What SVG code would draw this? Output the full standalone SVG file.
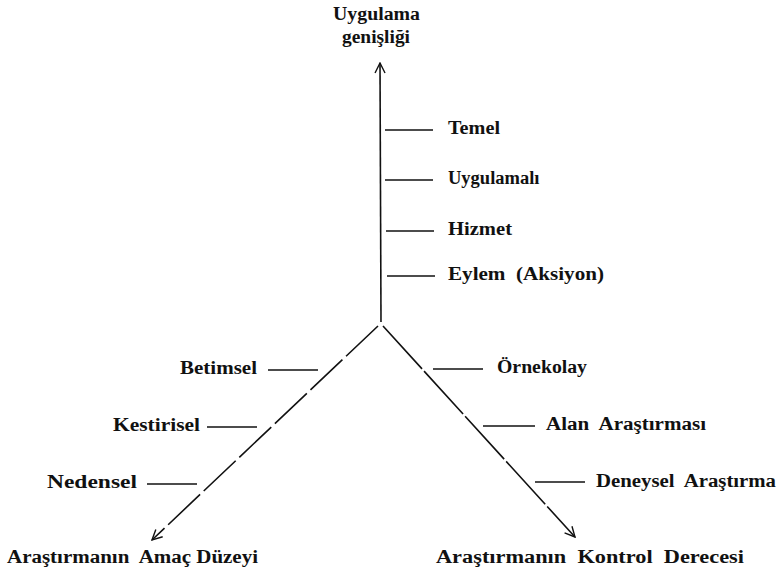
<svg xmlns="http://www.w3.org/2000/svg" width="777" height="576" viewBox="0 0 777 576">
<style>
text{font-family:"Liberation Serif","DejaVu Serif",serif;font-weight:bold;font-size:18.5px;fill:#111}
.ax{stroke:#111;stroke-width:1.6;fill:none}
.tk{stroke:#111;stroke-width:1.4;fill:none}
</style>
<defs>
<marker id="arr" viewBox="0 0 12 12" refX="11" refY="6" markerWidth="12" markerHeight="12" markerUnits="userSpaceOnUse" orient="auto">
<path d="M1,1 L11,6 L1,11" fill="none" stroke="#111" stroke-width="1.4"/>
</marker>
</defs>
<g id="connectors">
<line class="ax" x1="381" y1="322" x2="380" y2="63" marker-end="url(#arr)"/>
<line class="ax" x1="378" y1="326" x2="152" y2="540" stroke-dasharray="44 5" marker-end="url(#arr)"/>
<line class="ax" x1="383" y1="326" x2="575" y2="537" stroke-dasharray="58 3" marker-end="url(#arr)"/>
<line class="tk" x1="385" y1="130" x2="433" y2="130"/>
<line class="tk" x1="385" y1="180" x2="433" y2="180"/>
<line class="tk" x1="386" y1="231" x2="434" y2="231"/>
<line class="tk" x1="387" y1="276" x2="435" y2="276"/>
<line class="tk" x1="268" y1="370" x2="318" y2="370"/>
<line class="tk" x1="207" y1="427" x2="257" y2="427"/>
<line class="tk" x1="147" y1="484" x2="197" y2="484"/>
<line class="tk" x1="433" y1="369" x2="483" y2="369"/>
<line class="tk" x1="483" y1="426" x2="535" y2="426"/>
<line class="tk" x1="535" y1="482" x2="585" y2="482"/>
</g>
<g id="axis-top"><text x="333" y="20" textLength="87" lengthAdjust="spacingAndGlyphs">Uygulama</text><text x="342" y="43" textLength="68" lengthAdjust="spacingAndGlyphs">genişliği</text></g>
<g id="temel"><text x="448" y="134" textLength="52" lengthAdjust="spacingAndGlyphs">Temel</text></g>
<g id="uygulamali"><text x="448" y="184">Uygulamalı</text></g>
<g id="hizmet"><text x="448" y="235" textLength="64" lengthAdjust="spacingAndGlyphs">Hizmet</text></g>
<g id="eylem"><text x="448" y="280" textLength="156" lengthAdjust="spacingAndGlyphs" xml:space="preserve">Eylem  (Aksiyon)</text></g>
<g id="betimsel"><text x="180" y="374" textLength="77" lengthAdjust="spacingAndGlyphs">Betimsel</text></g>
<g id="kestirisel"><text x="113" y="431" textLength="87" lengthAdjust="spacingAndGlyphs">Kestirisel</text></g>
<g id="nedensel"><text x="47" y="488" textLength="90" lengthAdjust="spacingAndGlyphs">Nedensel</text></g>
<g id="ornekolay"><text x="497" y="373" textLength="90" lengthAdjust="spacingAndGlyphs">Örnekolay</text></g>
<g id="alan"><text x="546" y="430" textLength="160" lengthAdjust="spacingAndGlyphs" xml:space="preserve">Alan  Araştırması</text></g>
<g id="deneysel"><text x="596" y="487" textLength="180" lengthAdjust="spacingAndGlyphs" xml:space="preserve">Deneysel  Araştırma</text></g>
<g id="axis-left"><text x="7" y="563" textLength="251" lengthAdjust="spacingAndGlyphs" xml:space="preserve">Araştırmanın  Amaç Düzeyi</text></g>
<g id="axis-right"><text x="436" y="563" textLength="308" lengthAdjust="spacingAndGlyphs" xml:space="preserve">Araştırmanın  Kontrol  Derecesi</text></g>
</svg>
